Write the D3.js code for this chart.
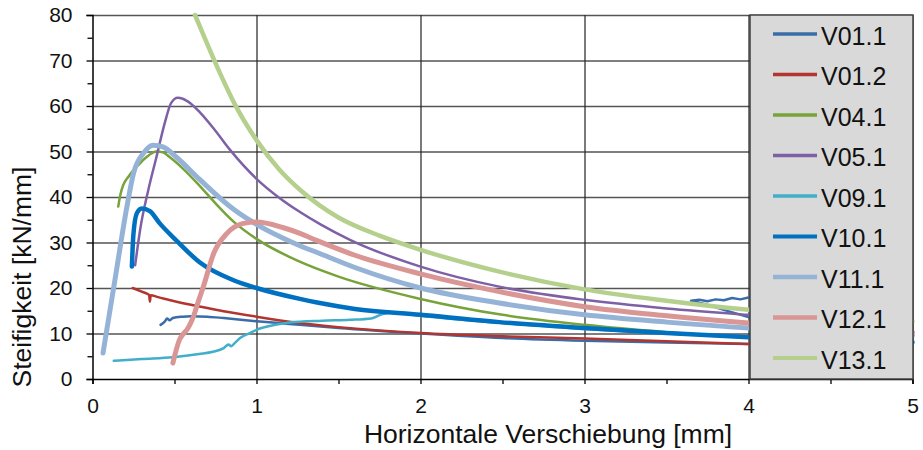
<!DOCTYPE html>
<html>
<head>
<meta charset="utf-8">
<script src="https://cdn.jsdelivr.net/npm/d3@7"></script>
<style>
  body { margin: 0; background: #fff; }
  svg { display: block; font-family: "Liberation Sans", Arial, sans-serif; }
</style>
</head>
<body>
<svg id="chart" width="923" height="450"></svg>
<script>
// ---- data (x = Horizontale Verschiebung [mm], y = Steifigkeit [kN/mm]) ----
const seriesNames = ["V01.1","V01.2","V04.1","V05.1","V09.1","V10.1","V11.1","V12.1","V13.1"];
const seriesColors = ["#3a6ca8","#b3352f","#77a33a","#7e60a6","#41afc9","#0070c0","#95b3d7","#d99694","#b5d08d"];
const seriesWidths = [2.5,2.5,2.5,2.5,2.5,4.5,5,5,4.5];

const V01_1 = [[0.415,11.9],[0.44,12.6],[0.455,13.3],[0.47,12.9],[0.49,13.4],[0.55,13.7],[0.6,13.8],[0.7,13.7],[0.8,13.4],[1.0,12.7],[1.2,12.1],[1.5,11.2],[2.0,10.0],[2.5,9.0],[3.0,8.4],[3.5,8.0],[4.0,7.7],[4.5,7.5],[5.0,7.3]];
const V01_1b = [[4.3,17.9],[4.1,17.7],[4.0,17.9],[3.95,17.5],[3.9,17.8],[3.85,17.3],[3.8,17.5],[3.75,17.1],[3.7,17.4],[3.65,17.2],[3.68,16.9],[3.73,16.5],[3.85,15.2],[4.0,13.6],[4.3,12.0]];
const V01_2 = [[0.245,20.0],[0.3,19.2],[0.345,18.5],[0.35,17.0],[0.355,18.4],[0.4,18.0],[0.5,17.1],[0.6,16.3],[0.8,14.9],[1.0,13.7],[1.2,12.6],[1.5,11.4],[2.0,10.1],[2.5,9.4],[3.0,8.9],[3.5,8.3],[4.0,7.7],[4.5,7.3],[5.0,7.0]];
const V04_1 = [[0.157,37.9],[0.17,40.5],[0.187,42.6],[0.22,44.5],[0.25,45.9],[0.3,47.8],[0.33,48.8],[0.39,50.0],[0.43,49.8],[0.47,48.8],[0.55,46.3],[0.655,42.4],[0.75,38.6],[0.86,34.6],[1.0,30.8],[1.25,26.0],[1.5,22.5],[2.0,17.6],[2.5,14.1],[3.0,11.9],[3.5,10.3],[4.0,9.1],[4.5,8.2],[5.0,7.6]];
const V05_1 = [[0.26,25.0],[0.275,29.0],[0.29,32.7],[0.34,41.5],[0.39,48.8],[0.44,56.2],[0.48,60.7],[0.52,61.8],[0.55,61.6],[0.6,60.5],[0.655,58.6],[0.74,55.0],[0.84,50.3],[1.0,44.0],[1.14,39.8],[1.27,36.6],[1.39,34.0],[1.57,30.6],[2.0,24.7],[2.48,20.3],[3.0,17.4],[3.5,15.5],[4.0,14.1],[4.5,12.9],[5.0,11.9]];
const V09_1 = [[0.13,4.0],[0.3,4.4],[0.49,4.8],[0.65,5.5],[0.735,6.0],[0.8,6.8],[0.83,7.6],[0.845,7.2],[0.87,8.0],[0.9,9.0],[0.96,10.1],[1.0,10.8],[1.1,11.8],[1.2,12.4],[1.4,12.8],[1.57,13.0],[1.7,13.3],[1.77,14.3],[1.85,14.6],[2.0,13.9],[2.5,12.3],[3.0,11.0],[3.5,10.0],[4.0,9.1],[4.5,8.5],[5.0,8.0]];
const V10_1 = [[0.24,24.7],[0.245,29.0],[0.25,32.0],[0.27,36.4],[0.3,37.5],[0.35,36.9],[0.41,34.2],[0.51,30.5],[0.655,25.6],[0.86,21.7],[1.0,20.0],[1.265,17.6],[1.37,16.8],[1.6,15.4],[2.0,14.1],[2.48,12.5],[3.0,11.2],[3.5,10.1],[4.0,9.2],[4.5,8.6],[5.0,8.1]];
const V11_1 = [[0.064,5.7],[0.14,22.5],[0.21,37.9],[0.25,45.2],[0.31,49.6],[0.37,51.4],[0.43,51.0],[0.51,48.8],[0.655,43.8],[0.86,37.3],[1.0,34.0],[1.16,31.0],[1.265,29.3],[1.37,27.8],[1.6,24.5],[2.0,20.0],[2.48,16.7],[3.0,14.1],[3.5,12.5],[4.0,11.2],[4.5,10.3],[5.0,9.6]];
const V12_1 = [[0.49,3.5],[0.53,8.6],[0.56,10.2],[0.575,10.8],[0.615,13.7],[0.645,17.0],[0.675,20.2],[0.74,27.7],[0.82,32.0],[0.92,34.2],[1.0,34.5],[1.16,33.3],[1.265,32.0],[1.37,30.4],[1.6,27.2],[2.0,23.1],[2.48,19.2],[3.0,15.9],[3.5,13.9],[4.0,12.3],[4.5,11.2],[5.0,10.3]];
const V13_1 = [[0.625,80.0],[0.7,73.6],[0.78,67.0],[0.869,60.3],[1.0,52.5],[1.14,46.0],[1.265,41.6],[1.387,38.1],[1.5,35.5],[1.75,31.5],[2.0,28.4],[2.48,23.6],[3.0,19.7],[3.5,17.2],[4.0,15.2],[4.5,13.8],[5.0,12.6]];
const seriesData = [V01_1,V01_2,V04_1,V05_1,V09_1,V10_1,V11_1,V12_1,V13_1];

const xTicks = [0,1,2,3,4,5];
const xMinorTicks = [0.5,1.5,2.5,3.5,4.5];
const yTicks = [0,10,20,30,40,50,60,70,80];
const yMinorTicks = [5,15,25,35,45,55,65,75];
const xTitle = "Horizontale Verschiebung [mm]";
const yTitle = "Steifigkeit [kN/mm]";

// ---- layout ----
const svg = d3.select("#chart");
const L = 92.5, R = 912.5, T = 15, B = 379;
const x = d3.scaleLinear().domain([0,5]).range([L,R]);
const y = d3.scaleLinear().domain([0,80]).range([B,T]);

// grid
svg.append("g").attr("transform",`translate(${L},0)`)
  .call(d3.axisLeft(y).tickValues(yTicks.slice(1)).tickSize(-(R-L)).tickFormat(""))
  .call(g => g.select(".domain").remove())
  .call(g => g.selectAll("line").attr("stroke","#555").attr("stroke-width",1.6));
svg.append("g").attr("transform",`translate(0,${B})`)
  .call(d3.axisBottom(x).tickValues(xTicks.slice(1)).tickSize(-(B-T)).tickFormat(""))
  .call(g => g.select(".domain").remove())
  .call(g => g.selectAll("line").attr("stroke","#222").attr("stroke-width",1.2));

// clip
svg.append("clipPath").attr("id","plotclip").append("rect")
  .attr("x",L).attr("y",T-3).attr("width",R-L+4).attr("height",B-T+3);

const smooth = d3.line().x(d => x(d[0])).y(d => y(d[1])).curve(d3.curveMonotoneX);
const jagged = d3.line().x(d => x(d[0])).y(d => y(d[1]));

const plot = svg.append("g").attr("clip-path","url(#plotclip)");
function drawPath(data, gen, i) {
  plot.append("path").datum(data)
    .attr("d",gen)
    .attr("fill","none")
    .attr("stroke",seriesColors[i])
    .attr("stroke-width",seriesWidths[i])
    .attr("stroke-linejoin","round")
    .attr("stroke-linecap","round");
}
seriesData.forEach((data,i) => {
  drawPath(data, smooth, i);
  if (i === 0) drawPath(V01_1b, jagged, 0);
});

// axes
const yAxis = svg.append("g").attr("transform",`translate(${L},0)`)
  .call(d3.axisLeft(y).tickValues(yTicks).tickSize(6).tickPadding(14));
yAxis.append("g").call(d3.axisLeft(y).tickValues(yMinorTicks).tickSize(5).tickFormat(""))
  .call(g => g.select(".domain").remove());
const xAxis = svg.append("g").attr("transform",`translate(0,${B})`)
  .call(d3.axisBottom(x).tickValues(xTicks).tickSize(5).tickPadding(14).tickFormat(d3.format("d")));
xAxis.append("g").call(d3.axisBottom(x).tickValues(xMinorTicks).tickSize(5).tickFormat(""))
  .call(g => g.select(".domain").remove());
[yAxis,xAxis].forEach(a => {
  a.selectAll(".domain").attr("stroke","#000").attr("stroke-width",1.5);
  a.selectAll("line").attr("stroke","#000").attr("stroke-width",1.3);
  a.selectAll("text").attr("font-size",21).attr("fill","#111")
    .attr("font-family","'Liberation Sans', Arial, sans-serif");
});

// titles
svg.append("text").attr("x",548).attr("y",443).attr("text-anchor","middle")
  .attr("font-size",26.5).attr("fill","#111").text(xTitle);
svg.append("text").attr("transform","translate(31,277) rotate(-90)").attr("text-anchor","middle")
  .attr("font-size",26.5).attr("fill","#111").text(yTitle);

// legend
const lg = svg.append("g");
lg.append("rect").attr("x",750).attr("y",15).attr("width",163).attr("height",364)
  .attr("fill","#d9d9d9").attr("stroke","#404040").attr("stroke-width",1.5);
seriesNames.forEach((n,i) => {
  const yy = 34 + i*40.5;
  lg.append("line").attr("x1",773).attr("x2",817).attr("y1",yy).attr("y2",yy)
    .attr("stroke",seriesColors[i]).attr("stroke-width",Math.max(3.5,seriesWidths[i]-0.5));
  lg.append("text").attr("x",821).attr("y",yy+10.5).attr("font-size",25).attr("fill","#111").text(n);
});
</script>
</body>
</html>
